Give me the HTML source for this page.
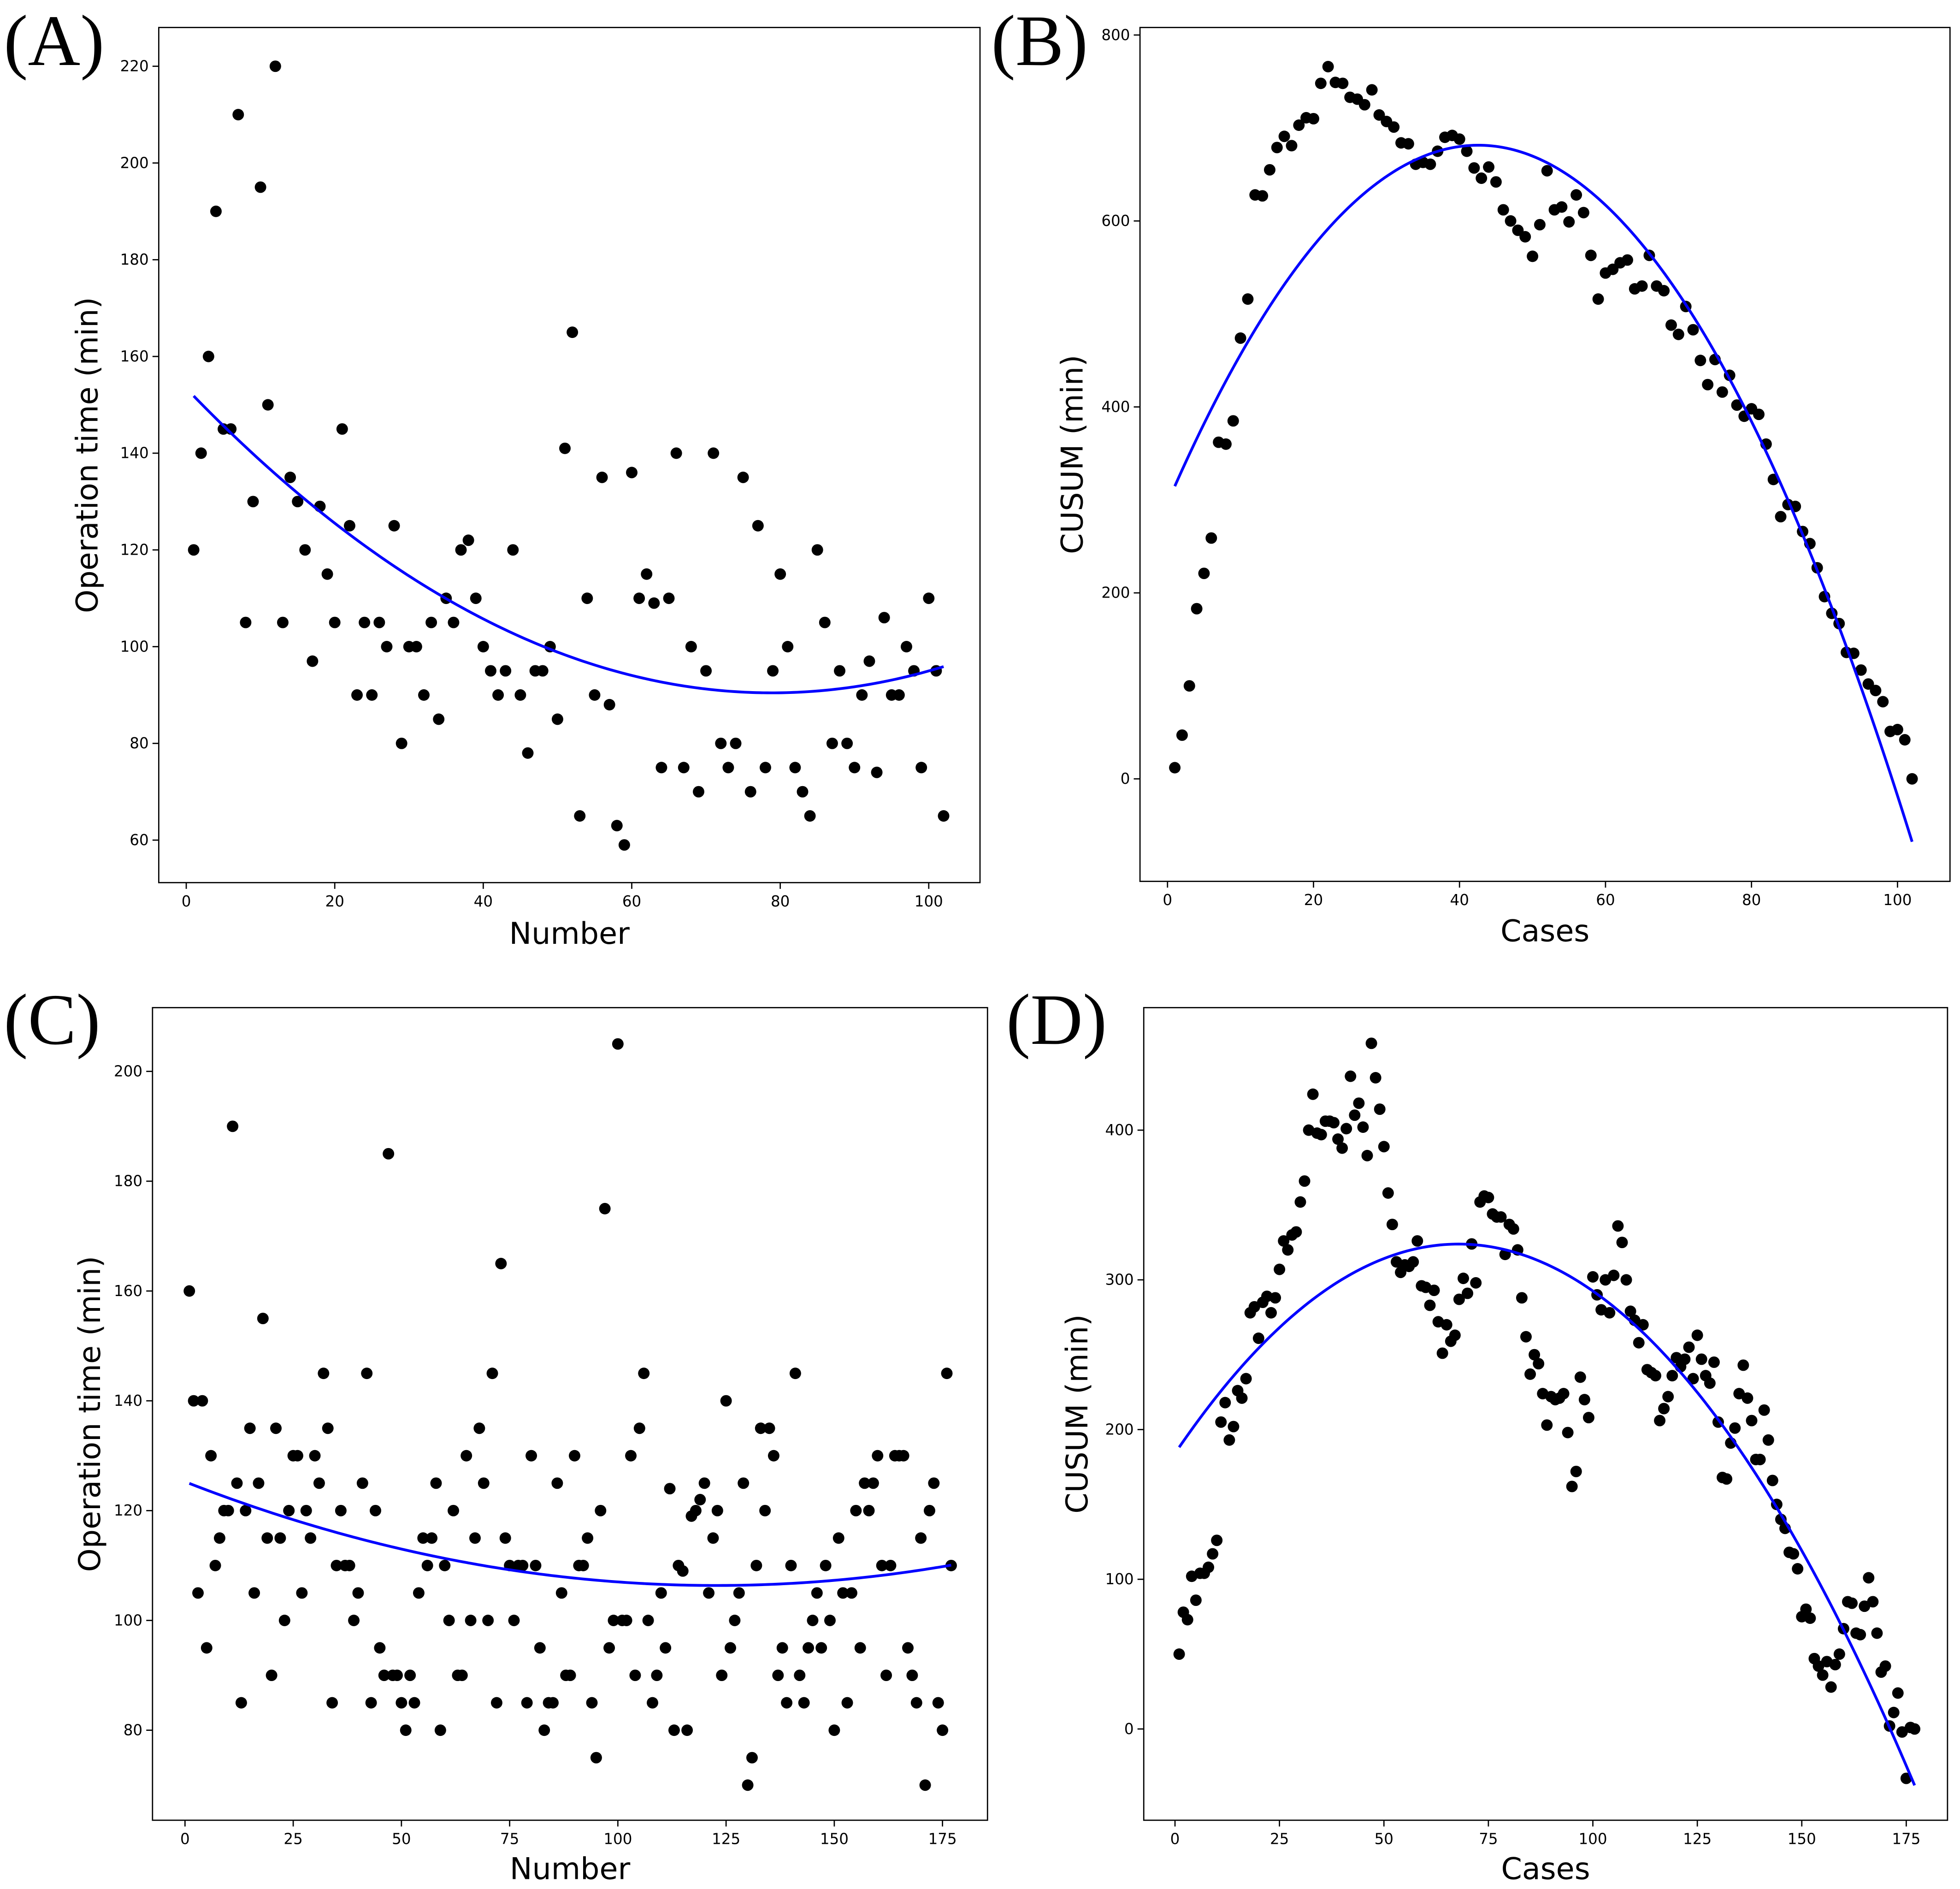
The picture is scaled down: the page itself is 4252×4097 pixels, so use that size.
<!DOCTYPE html>
<html><head><meta charset="utf-8"><style>
html,body{margin:0;padding:0;background:#fff}
svg{display:block}
text{font-family:"DejaVu Sans","Liberation Sans",sans-serif}
.pl{font-family:"Liberation Serif",serif;font-size:58px}
</style></head><body>
<svg id="fig" width="4252" height="4097" viewBox="0 0 1568 1511" preserveAspectRatio="none" xmlns="http://www.w3.org/2000/svg"></svg>
<script>
const aValues=[120,140,160,190,145,145,210,105,130,195,150,220,105,135,130,120,97,129,115,105,145,125,90,105,90,105,100,125,80,100,100,90,105,85,110,105,120,122,110,100,95,90,95,120,90,78,95,95,100,85,141,165,65,110,90,135,88,63,59,136,110,115,109,75,110,140,75,100,70,95,140,80,75,80,135,70,125,75,95,115,100,75,70,65,120,105,80,95,80,75,90,97,74,106,90,90,100,95,75,110,95,65];
const bValues=[12,47,100,183,221,259,362,360,385,474,516,628,627,655,679,691,681,703,711,710,748,766,749,748,733,731,725,741,714,707,701,684,683,661,663,661,675,690,692,688,675,657,646,658,642,612,600,590,583,562,596,654,612,615,599,628,609,563,516,544,548,555,558,527,530,563,530,525,488,478,508,483,450,424,451,416,434,402,390,398,392,360,322,282,295,293,266,253,227,196,178,167,136,135,117,102,95,83,51,53,42,0];
const cValues=[160,140,105,140,95,130,110,115,120,120,190,125,85,120,135,105,125,155,115,90,135,115,100,120,130,130,105,120,115,130,125,145,135,85,110,120,110,110,100,105,125,145,85,120,95,90,185,90,90,85,80,90,85,105,115,110,115,125,80,110,100,120,90,90,130,100,115,135,125,100,145,85,165,115,110,100,110,110,85,130,110,95,80,85,85,125,105,90,90,130,110,110,115,85,75,120,175,95,100,205,100,100,130,90,135,145,100,85,90,105,95,124,80,110,109,80,119,120,122,125,105,115,120,90,140,95,100,105,125,70,75,110,135,120,135,130,90,95,85,110,145,90,85,95,100,105,95,110,100,80,115,105,85,105,120,95,125,120,125,130,110,90,110,130,130,130,95,90,85,115,70,120,125,85,80,145,110];
const dValues=[50,78,73,102,86,104,104,108,117,126,205,218,193,202,226,221,234,278,282,261,285,289,278,288,307,326,320,330,332,352,366,400,424,398,397,406,406,405,394,388,401,436,410,418,402,383,458,435,414,389,358,337,312,305,310,309,312,326,296,295,283,293,272,251,270,259,263,287,301,291,324,298,352,356,355,344,342,342,317,337,334,320,288,262,237,250,244,224,203,222,220,221,224,198,162,172,235,220,208,302,290,280,300,278,303,336,325,300,279,273,258,270,240,238,236,206,214,222,236,248,242,247,255,234,263,247,236,231,245,205,168,167,191,201,224,243,221,206,180,180,213,193,166,150,140,134,118,117,107,75,80,74,47,42,36,45,28,43,50,67,85,84,64,63,82,101,85,64,38,42,2,11,24,-2,-33,1,0];
const aXTicks=[0,20,40,60,80,100], aYTicks=[60,80,100,120,140,160,180,200,220];
const bXTicks=[0,20,40,60,80,100], bYTicks=[0,200,400,600,800];
const cXTicks=[0,25,50,75,100,125,150,175], cYTicks=[80,100,120,140,160,180,200];
const dXTicks=[0,25,50,75,100,125,150,175], dYTicks=[0,100,200,300,400];

const NS="http://www.w3.org/2000/svg";
const svg=document.getElementById('fig');
function mk(tag,attrs,parent){const e=document.createElementNS(NS,tag);for(const k in attrs)e.setAttribute(k,attrs[k]);(parent||svg).appendChild(e);return e;}
function fit(ys){let n=ys.length,S=[0,0,0,0,0],T=[0,0,0];
 for(let i=0;i<n;i++){const x=i+1,y=ys[i];let p=1;for(let k=0;k<5;k++){S[k]+=p;if(k<3)T[k]+=p*y;p*=x;}}
 const M=[[S[0],S[1],S[2],T[0]],[S[1],S[2],S[3],T[1]],[S[2],S[3],S[4],T[2]]];
 for(let i=0;i<3;i++){for(let j=i+1;j<3;j++){const f=M[j][i]/M[i][i];for(let k=i;k<4;k++)M[j][k]-=f*M[i][k];}}
 const c=[0,0,0];for(let i=2;i>=0;i--){let s=M[i][3];for(let k=i+1;k<3;k++)s-=M[i][k]*c[k];c[i]=s/M[i][i];}return c;}
function panel(o){
 const g=mk('g',{});
 
 
 const sx=v=>o.x0px+(v-o.x0v)*(o.x1px-o.x0px)/(o.x1v-o.x0v);
 const sy=v=>o.y0px+(v-o.y0v)*(o.y1px-o.y0px)/(o.y1v-o.y0v);
 const fr=mk('rect',{x:o.L,y:o.T,width:o.R-o.L,height:o.B-o.T,fill:'none',stroke:'#000','stroke-width':1},g);
 
 
 o.xt.forEach(t=>{const x=sx(t);mk('line',{x1:x,x2:x,y1:o.B,y2:o.B+5,stroke:'#000'},g);
  const tx=mk('text',{x:x,y:o.B+19,'font-size':12,'text-anchor':'middle'},g);tx.textContent=t;
  
  });
 o.yt.forEach(t=>{const y=sy(t);mk('line',{x1:o.L-5,x2:o.L,y1:y,y2:y,stroke:'#000'},g);
  const tx=mk('text',{x:o.L-8,y:y+4,'font-size':12,'text-anchor':'end'},g);tx.textContent=t;
  
  });
 o.data.forEach((v,i)=>{const c=mk('circle',{cx:sx(i+1),cy:sy(v),r:4.6,fill:'#000'},g);
  
  });
 const cf=fit(o.data);let d='';const n=o.data.length;
 for(let k=0;k<=200;k++){const x=1+(n-1)*k/200;const y=cf[0]+cf[1]*x+cf[2]*x*x;d+=(k?'L':'M')+sx(x).toFixed(2)+' '+sy(y).toFixed(2);}
 const p=mk('path',{d:d,fill:'none',stroke:'#0000ff','stroke-width':2.2},g);
 
 
 const xl=mk('text',{x:(o.L+o.R)/2,y:o.xlY,'font-size':24,'text-anchor':'middle'},g);xl.textContent=o.xl;
 
 
 const cy=(o.T+o.B)/2;
 const yl=mk('text',{x:o.ylX,y:cy,'font-size':24,'text-anchor':'middle',transform:`rotate(-90 ${o.ylX} ${cy})`},g);yl.textContent=o.yl;
 
 
 const pl=mk('text',{x:o.plx,y:o.ply,class:'pl'},g);pl.textContent=o.pl;
 
 
}
panel({name:'panel-a',L:127,R:784,T:22,B:706,x0v:0,x0px:149,x1v:100,x1px:743,y0v:220,y0px:53,y1v:60,y1px:672,xt:aXTicks,yt:aYTicks,data:aValues,xl:'Number',xlY:755,yl:'Operation time (min)',ylX:78,pl:'(A)',plx:3,ply:52});
panel({name:'panel-b',L:912,R:1560,T:22,B:705,x0v:0,x0px:934,x1v:100,x1px:1518,y0v:800,y0px:28,y1v:0,y1px:623,xt:bXTicks,yt:bYTicks,data:bValues,xl:'Cases',xlY:753,yl:'CUSUM (min)',ylX:866,pl:'(B)',plx:793,ply:52});
panel({name:'panel-c',L:122,R:790,T:806,B:1456,x0v:0,x0px:148,x1v:175,x1px:754,y0v:200,y0px:857,y1v:80,y1px:1384,xt:cXTicks,yt:cYTicks,data:cValues,xl:'Number',xlY:1503,yl:'Operation time (min)',ylX:80,pl:'(C)',plx:3,ply:835});
panel({name:'panel-d',L:915,R:1558,T:806,B:1456,x0v:0,x0px:940,x1v:175,x1px:1525,y0v:400,y0px:904,y1v:0,y1px:1383,xt:dXTicks,yt:dYTicks,data:dValues,xl:'Cases',xlY:1503,yl:'CUSUM (min)',ylX:870,pl:'(D)',plx:805,ply:835});
</script>
</body></html>
